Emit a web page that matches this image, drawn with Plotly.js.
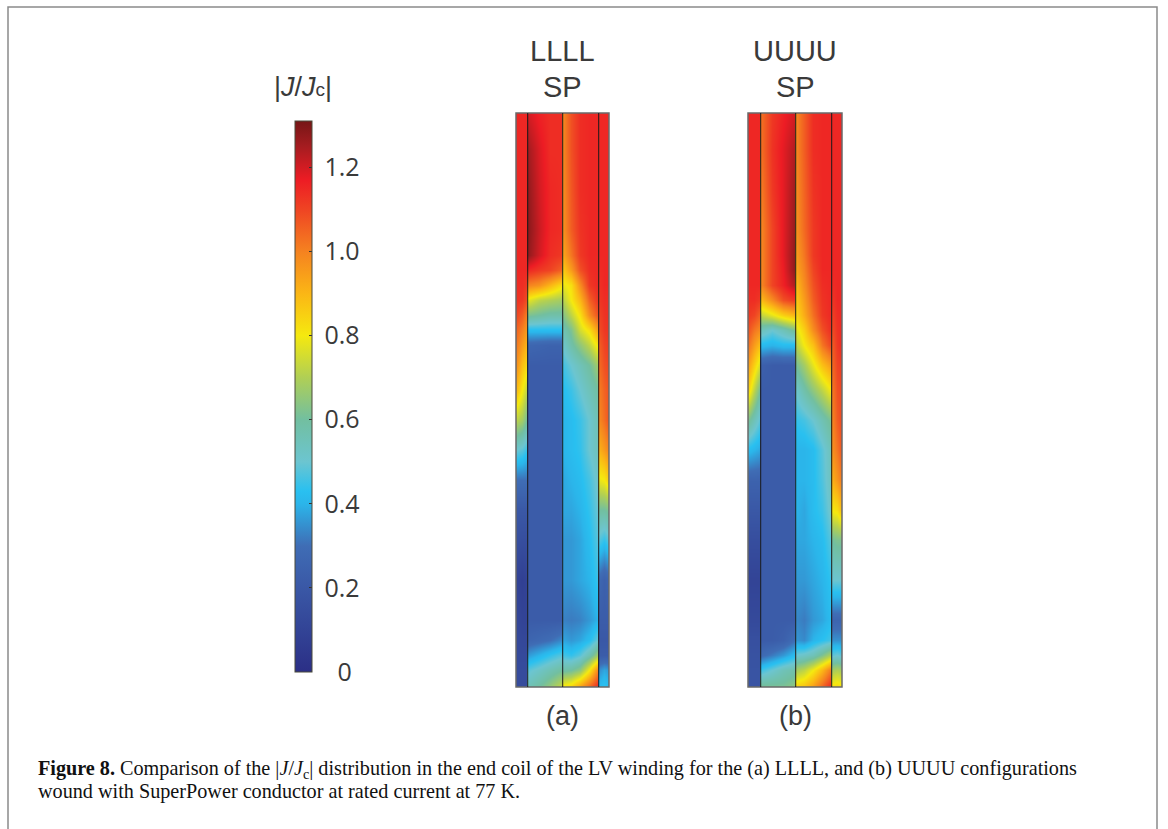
<!DOCTYPE html>
<html><head><meta charset="utf-8">
<script src="https://cdn.plot.ly/plotly-3.0.1.min.js"></script>
<style>html,body{margin:0;padding:0;background:#fff}</style></head>
<body><div id="chart" style="width:1168px;height:829px"></div>
<script>
const W = 1168, H = 829;
// positions along the coil height, measured from the top of the winding
const rowPos = [0,37,77,117,142,157,172,187,202,217,232,252,277,307,337,367,397,427,467,507,527,542,557,574];
const col3 = [0,0.5,1];
const col4 = [0,0.33,0.67,1];
const col5 = [0,0.25,0.5,0.75,1];

// (a) LLLL: |J/Jc| per tape
const a1 = [[1.15,1.15,1.15],[1.15,1.15,1.15],[1.15,1.15,1.15],[1.15,1.15,1.15],[1.15,1.15,1.15],[1.15,1.15,1.15],[1.14,1.14,1.12],[1.13,1.12,1.08],[1.1,1.06,1.0],[1.05,1.0,.95],[1.02,.95,.9],[.98,.88,.83],[.9,.8,.72],[.72,.68,.6],[.5,.48,.44],[.3,.3,.3],[.2,.2,.2],[.16,.15,.15],[.1,.08,.1],[.12,.1,.1],[.13,.12,.12],[.13,.13,.13],[.14,.14,.14],[.14,.14,.14]];
const a2 = [[1.2,1.16,1.14,1.14],[1.26,1.19,1.14,1.14],[1.28,1.2,1.15,1.14],[1.29,1.21,1.15,1.14],[1.28,1.2,1.14,1.12],[1.15,1.12,1.1,1.05],[1.0,.97,.9,.82],[.78,.72,.7,.68],[.62,.6,.58,.58],[.42,.42,.42,.42],[.27,.26,.25,.25],[.22,.22,.22,.22],[.22,.22,.22,.22],[.22,.22,.22,.22],[.22,.22,.22,.22],[.22,.22,.22,.22],[.22,.22,.22,.22],[.22,.22,.22,.22],[.22,.22,.22,.22],[.22,.22,.22,.22],[.26,.28,.3,.34],[.36,.4,.44,.48],[.48,.52,.56,.6],[.55,.6,.66,.74]];
const a3 = [[.98,1.08,1.14,1.15,1.15],[.98,1.08,1.14,1.15,1.15],[.97,1.07,1.14,1.15,1.15],[.96,1.06,1.13,1.15,1.15],[.92,1.02,1.12,1.15,1.15],[.85,.95,1.08,1.14,1.15],[.78,.82,.98,1.12,1.15],[.7,.8,.9,1.05,1.13],[.62,.72,.82,.98,1.08],[.55,.62,.75,.82,.95],[.5,.58,.65,.72,.82],[.45,.5,.55,.6,.68],[.42,.45,.5,.55,.6],[.4,.42,.45,.5,.56],[.4,.42,.44,.5,.55],[.38,.4,.42,.46,.52],[.38,.38,.4,.44,.5],[.36,.36,.38,.42,.48],[.36,.36,.38,.4,.45],[.33,.32,.33,.36,.4],[.38,.36,.38,.42,.5],[.46,.44,.48,.56,.68],[.58,.6,.65,.8,1.0],[.82,.85,.95,1.05,1.15]];
const a4 = [[1.15,1.15,1.15],[1.15,1.15,1.15],[1.15,1.15,1.15],[1.15,1.15,1.15],[1.15,1.15,1.15],[1.14,1.15,1.15],[1.13,1.15,1.15],[1.12,1.14,1.14],[1.1,1.13,1.14],[1.08,1.12,1.13],[1.05,1.1,1.12],[1.03,1.08,1.1],[1.0,1.05,1.08],[.98,1.03,1.08],[.9,.95,1.0],[.78,.8,.86],[.6,.6,.62],[.48,.44,.48],[.28,.24,.27],[.22,.22,.22],[.2,.2,.2],[.22,.22,.22],[.34,.38,.36],[.42,.44,.42]];

// (b) UUUU: |J/Jc| per tape
const b1 = [[1.15,1.15,1.15],[1.15,1.15,1.15],[1.15,1.15,1.15],[1.15,1.15,1.15],[1.15,1.15,1.15],[1.15,1.15,1.15],[1.15,1.15,1.15],[1.14,1.14,1.12],[1.12,1.1,1.05],[1.08,1.02,.98],[1.03,.95,.88],[.95,.85,.75],[.85,.72,.6],[.62,.55,.48],[.42,.4,.38],[.25,.25,.25],[.2,.2,.2],[.15,.15,.15],[.1,.1,.1],[.13,.13,.13],[.16,.16,.16],[.17,.17,.17],[.18,.18,.18],[.18,.18,.18]];
const b2 = [[1.02,1.12,1.16,1.2],[1.02,1.13,1.18,1.24],[1.0,1.12,1.18,1.26],[.98,1.1,1.18,1.27],[.98,1.1,1.18,1.28],[.98,1.1,1.17,1.28],[.98,1.1,1.16,1.24],[.88,.98,1.08,1.12],[.72,.78,.85,.9],[.55,.5,.55,.62],[.42,.4,.42,.42],[.24,.22,.22,.22],[.22,.22,.22,.22],[.22,.22,.22,.22],[.22,.22,.22,.22],[.22,.22,.22,.22],[.22,.22,.22,.22],[.22,.22,.22,.22],[.22,.22,.22,.22],[.22,.22,.22,.22],[.22,.22,.24,.3],[.28,.32,.36,.42],[.45,.5,.55,.58],[.62,.62,.62,.65]];
const b3 = [[.98,1.06,1.14,1.15,1.15],[.98,1.06,1.14,1.15,1.15],[.97,1.05,1.13,1.15,1.15],[.96,1.04,1.12,1.15,1.15],[.94,1.02,1.12,1.15,1.15],[.92,1.0,1.1,1.15,1.15],[.88,.98,1.08,1.14,1.15],[.85,.95,1.06,1.13,1.15],[.82,.92,1.03,1.12,1.15],[.76,.85,.98,1.08,1.14],[.7,.8,.88,1.02,1.1],[.6,.68,.78,.88,.95],[.5,.58,.65,.72,.8],[.44,.46,.5,.56,.62],[.4,.4,.42,.48,.55],[.4,.4,.42,.47,.54],[.4,.38,.42,.45,.52],[.38,.38,.4,.42,.48],[.36,.36,.38,.4,.44],[.34,.32,.36,.38,.42],[.36,.34,.4,.43,.46],[.5,.52,.55,.62,.7],[.68,.72,.8,.9,1.02],[.85,.88,.95,1.05,1.15]];
const b4 = [[1.15,1.15,1.15],[1.15,1.15,1.15],[1.15,1.15,1.15],[1.15,1.15,1.15],[1.15,1.15,1.15],[1.15,1.15,1.15],[1.14,1.15,1.15],[1.12,1.15,1.15],[1.1,1.14,1.15],[1.08,1.13,1.15],[1.05,1.12,1.15],[1.03,1.1,1.12],[1.0,1.08,1.1],[.98,1.06,1.1],[.96,1.02,1.08],[.9,.96,1.02],[.8,.82,.9],[.6,.62,.62],[.5,.5,.5],[.26,.26,.26],[.35,.35,.35],[.48,.5,.48],[.68,.7,.68],[.82,.84,.82]];

const zMax = 1.31;
const stops = [[0,'#2b2f86'],[.2,'#3a58a6'],[.3,'#3f6db5'],[.4,'#2bb5ea'],[.43,'#29c0f0'],[.5,'#6cc5d0'],[.6,'#72bfa0'],[.7,'#b0cf55'],[.8,'#f5e90f'],[.9,'#fbb615'],[1,'#f58220'],[1.1,'#ef4423'],[1.17,'#ed1c24'],[1.25,'#a51c20'],[1.31,'#761616']];
const tickVals = [0,.2,.4,.6,.8,1,1.2];
const tickText = ['\u00a0\u00a0\u00a00','\u00a00.2','\u00a00.4','\u00a00.6','\u00a00.8','\u00a01.0','\u00a01.2'];

const panelEdges = [[516,527,562,598,609],[748,760,795,831,842]];
const panelTop = 113, panelBottom = 687;
const strips = [[a1,col3],[a2,col4],[a3,col5],[a4,col3],[b1,col3],[b2,col4],[b3,col5],[b4,col3]];

const colorscale = stops.map(s => [s[0]/zMax, s[1]]);
const px = x => x/W, py = y => 1 - y/H;
const data = [], shapes = [];
const layout = {
  width: W, height: H, margin: {l:0,r:0,t:0,b:0}, paper_bgcolor:'#fff', plot_bgcolor:'#fff', showlegend:false,
  yaxis: {domain:[py(panelBottom),py(panelTop)], range:[rowPos[rowPos.length-1],0], visible:false}
};
strips.forEach((s,i) => {
  const p = i<4?0:1, k = i%4, name = i===0?'x':'x'+(i+1), key = i===0?'xaxis':'xaxis'+(i+1);
  layout[key] = {domain:[px(panelEdges[p][k]),px(panelEdges[p][k+1])], range:[0,1], visible:false, anchor:'y'};
  data.push({type:'heatmap', x:s[1], y:rowPos, z:s[0], xaxis:name, yaxis:'y', zmin:0, zmax:zMax, zsmooth:'best',
    colorscale, hoverinfo:'skip', showscale:i===0,
    colorbar: i===0 ? {x:px(295), xanchor:'left', xpad:0, ypad:0, y:py(121), yanchor:'top',
      thickness:17, thicknessmode:'pixels', len:551, lenmode:'pixels', outlinecolor:'#4a4a3a', outlinewidth:1,
      tickmode:'array', tickvals:tickVals, ticktext:tickText, ticks:'inside', ticklen:3, tickcolor:'#333',
      tickfont:{family:'Open Sans, sans-serif', size:25, color:'#3a3a3a'}} : undefined});
  if (k>0) shapes.push({type:'line', xref:name, x0:0, x1:0, yref:'paper', y0:py(panelTop), y1:py(panelBottom), line:{color:'rgba(25,25,25,0.8)', width:2.5}});
  if (k===0) shapes.push({type:'rect', xref:'paper', x0:px(panelEdges[p][0]), x1:px(panelEdges[p][4]), yref:'paper', y0:py(panelTop), y1:py(panelBottom), line:{color:'#6a6a6a', width:1.5}});
});
shapes.push({type:'path', xref:'paper', yref:'paper',
  path:`M${px(8)},0 L${px(8)},${py(7)} L${px(1157)},${py(7)} L${px(1157)},0`, line:{color:'#8a8a8a', width:1.5}});
layout.shapes = shapes;
const label = (text,x,y,size,color,family,anchor) => ({text, x:px(x), y:py(y), xref:'paper', yref:'paper', showarrow:false,
  xanchor:anchor||'center', yanchor:'middle', font:{family, size, color}});
const SANS = 'Liberation Sans, sans-serif', SERIF = 'Liberation Serif, serif';
layout.annotations = [
  label('|<i>J</i>/<i>J</i><span style="font-size:19px">c</span>|',303,87,27,'#3a3a3a',SANS),
  label('LLLL',562,51,29,'#3a3a3a',SANS), label('SP',562,87,29,'#3a3a3a',SANS),
  label('UUUU',795,51,29,'#3a3a3a',SANS), label('SP',795,87,29,'#3a3a3a',SANS),
  label('(a)',562,716,27,'#3a3a3a',SANS), label('(b)',795,716,27,'#3a3a3a',SANS),
  label('<b>Figure 8.</b> Comparison of the |<i>J</i>/<i>J</i><sub>c</sub>| distribution in the end coil of the LV winding for the (a) LLLL, and (b) UUUU configurations',36,769,20.2,'#111',SERIF,'left'),
  label('wound with SuperPower conductor at rated current at 77 K.',36,791,20.2,'#111',SERIF,'left')
];
Plotly.newPlot('chart', data, layout, {displayModeBar:false, staticPlot:true});
</script></body></html>
